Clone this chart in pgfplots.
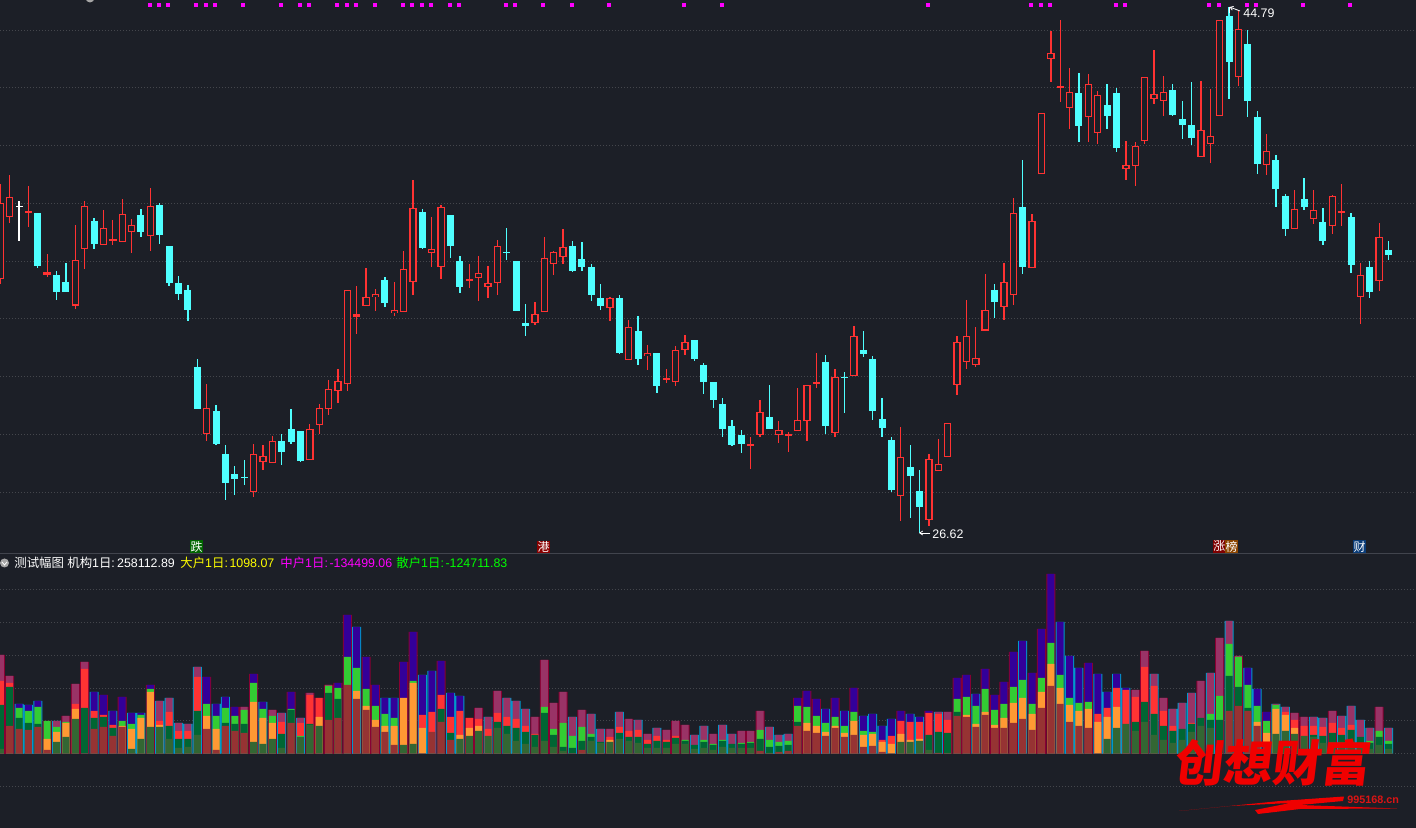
\documentclass[border=0pt]{standalone}
\usepackage{fontspec}
\usepackage{pgfplots}
\usepackage{pgfplotstable}
\usetikzlibrary{arrows.meta}
\pgfplotsset{compat=1.18}
\setmainfont{Liberation Sans}
\newfontfamily\cjk{Noto Sans CJK SC}

\definecolor{bg}{HTML}{1C1F27}
\definecolor{gridc}{HTML}{44464C}
\definecolor{sepc}{HTML}{41444D}
\definecolor{upc}{HTML}{FF3232}
\definecolor{downc}{HTML}{4FFFFF}
\definecolor{dojiw}{HTML}{FFFFFF}
\definecolor{edgeb}{HTML}{0099CC}
\definecolor{edgec}{HTML}{880033}
\definecolor{sA}{HTML}{963333}
\definecolor{sB}{HTML}{336633}
\definecolor{sC}{HTML}{FF9933}
\definecolor{sD}{HTML}{FF3333}
\definecolor{sE}{HTML}{33CC33}
\definecolor{sF}{HTML}{006633}
\definecolor{sG}{HTML}{330099}
\definecolor{sH}{HTML}{993366}
\definecolor{wm}{HTML}{F00000}
\definecolor{wmt}{HTML}{DC1414}
\definecolor{tagA}{HTML}{006600}
\definecolor{tagB}{HTML}{880000}
\definecolor{tagC}{HTML}{7F0000}
\definecolor{tagD}{HTML}{8B4500}
\definecolor{tagE}{HTML}{0A3C78}
\definecolor{sigc}{HTML}{FF00FF}
\definecolor{hdrY}{HTML}{FFFF00}
\definecolor{hdrG}{HTML}{00FF00}

% price panel, y = pixel row; t: 0 falling, 1 rising, 2 white doji
\pgfplotstableread{
i t hi top bot lo
0 1 184 203.3 279.3 284
1 1 175 197.3 217.3 222.7
2 2 201 206 207 240.7
3 1 186 211 213 226.7
4 0 213 213 265.7 267.7
5 1 254 272.3 274.7 276.7
6 0 271.3 275 291.7 299.7
7 0 263 282 291.7 291.7
8 1 225 260.3 305.7 308.7
9 1 201 206.3 249.3 268.7
10 0 218 221 243.7 249
11 1 210 228.3 245.3 245.3
12 1 220 239.3 241.3 244.7
13 1 199 214.3 242.3 242.3
14 1 219 225.3 232.3 252.7
15 0 209 215 232 237
16 1 188 206.3 236.3 250.7
17 0 203 205 234.7 244
18 0 246 246 282.7 285.7
19 0 276 283 293.7 299.7
20 0 285 290 309.7 320.7
21 0 359 367 408.7 408.7
22 1 384 408.3 434.3 440.7
23 0 405 411 443.7 444.7
24 0 445 454 482.7 499.7
25 0 466 474 478.7 494.7
26 0 460 477 478 484.7
27 1 444 454.3 492.3 496.7
28 1 445 456.3 462.3 469.7
29 1 436 441.3 463.3 463.3
30 0 434 441 451.7 464.7
31 0 409 429 441.7 443.7
32 0 431 431 460.7 461.7
33 1 424.3 429.3 460.3 460.3
34 1 404 408.3 425.3 433.7
35 1 380 389.3 409.3 414.7
36 1 369.3 381.3 391.3 402.7
37 1 290.3 290.3 384.3 390.7
38 1 286 314.3 316.7 333.7
39 1 268 297.3 306.3 306.3
40 1 289 294.3 297.3 310.7
41 0 277 280 302.7 306.7
42 1 282 310.3 313.3 315.7
43 1 251 269.3 312.3 312.3
44 1 180 208.3 282.3 294.7
45 0 209 212 247.7 248.7
46 1 217 249.3 253.3 266.7
47 1 205 207.3 267.3 278.7
48 0 215 215 245.7 257.7
49 0 256 261 286.7 292.7
50 1 264 279.3 281.3 287.7
51 1 256 273.3 278.3 300.7
52 1 266 283.3 287.3 297.7
53 1 240 246.3 283.3 294.7
54 0 228 252 253 259.7
55 0 261 261 310.7 310.7
56 0 304 323 325.7 335.7
57 1 302 314.3 323.3 324.7
58 1 237 258.3 312.3 312.3
59 1 251.3 252.3 264.3 274.7
60 1 229 247.3 257.3 263.7
61 0 241 246 270.7 271.7
62 0 242 259 266.7 270.7
63 0 264 267 294.7 300.7
64 0 284 298 305.7 309.7
65 1 297 298.3 308.3 320.7
66 0 295 298 352.7 353.7
67 1 320 327.3 360.3 360.3
68 0 316 331 358.7 364.7
69 1 345 353.3 356.3 369.7
70 0 353 353 385.7 392.7
71 1 369 378 380 382.7
72 1 346 350.3 382.3 385.7
73 1 335 342.3 350.3 355.5
74 0 340 340 358.7 360.7
75 0 363 365 381.7 393.7
76 0 382 382 399.7 407.7
77 0 398 404 428.7 436.7
78 0 420 426 444.7 445.7
79 0 430 435 443.7 452.7
80 1 437 444 446 468.7
81 1 400 412.3 435.3 436.7
82 0 385 417 428.7 428.7
83 1 421 430.3 435.3 443
84 1 432 434.3 435.7 451.7
85 1 388 420.3 431.3 431.3
86 1 385.3 385.3 421.3 441
87 1 353 382 383.5 387.7
88 0 355 362 425.7 433.7
89 1 369 377.3 433.3 436.7
90 0 372 377 378 412.7
91 1 326 336.3 376.3 376.3
92 0 331 350 353.7 356.7
93 0 356 359 410.7 419.7
94 0 398 419 427.7 436.7
95 0 437 440 489.7 491.7
96 1 427 457.3 496.3 520.7
97 0 445 467 475.7 517.7
98 0 470 491 506.7 532.7
99 1 454 459.3 520.3 525.7
100 1 439 464.3 471.3 471.3
101 1 423.3 423.3 457.3 457.3
102 1 336 342.3 385.3 394.7
103 1 300 336.3 362.3 369.3
104 1 327 358.3 365.3 367.3
105 1 274 310.3 330.7 330.7
106 0 284 290 301.7 317.7
107 1 263 282.3 307.3 319.7
108 1 198 213.3 295.3 304.7
109 0 160 207 266.7 273.7
110 1 214 221.3 268.3 268.3
111 1 113.3 113.3 174.3 174.3
112 1 31 53.3 59.3 81.7
113 1 20 86.3 88.3 101.7
114 1 68 92.3 108.3 128.7
115 0 73 93 125.7 141.7
116 1 74 84.3 117.3 141.7
117 1 91 95.3 133.3 143.7
118 0 84 105 115.7 128.7
119 0 88 93 147.7 151.7
120 1 141 165.3 169.3 179.7
121 1 142 146.3 166.3 185.7
122 1 77.3 77.3 141.3 144.3
123 1 50 94.3 99.3 103.7
124 1 76 92.3 101.3 115.7
125 0 84 90 114.7 115.7
126 0 101 119 124.7 138.7
127 0 82 125 137.7 144.7
128 1 81 130.3 157.3 157.3
129 1 89 136.3 144.3 162.7
130 1 20.3 20.3 116.3 116.3
131 0 7 16 61.7 98.7
132 1 11 29.3 77.3 86
133 0 30 44 100.7 116.7
134 0 111 117 163.7 173.7
135 1 134 151.3 165.3 174.7
136 0 155 160 188.7 206.7
137 0 194 196 228.7 235.7
138 1 190 209.3 229.3 229.3
139 0 178 199 206.7 209.7
140 1 190 210.3 219.3 223.7
141 0 208 222 240.7 244.7
142 1 195 196.3 226.3 233.7
143 1 184 211.3 213.3 225.7
144 0 213 217 264.7 272.7
145 1 263 275.3 297.3 323.7
146 0 261 267 291.7 297.7
147 1 223 237.3 281.3 290.7
148 0 241 250 254.7 259.7
}\candles

% signal dots along the top edge
\pgfplotstableread{
i y
16 5.3
17 5.3
18 5.3
21 5.3
22 5.3
23 5.3
26 5.3
30 5.3
32 5.3
33 5.3
36 5.3
37 5.3
38 5.3
40 5.3
43 5.3
44 5.3
45 5.3
46 5.3
48 5.3
49 5.3
54 5.3
55 5.3
58 5.3
61 5.3
65 5.3
73 5.3
77 5.3
99 5.3
110 5.3
111 5.3
112 5.3
119 5.3
120 5.3
129 5.3
130 5.3
133 5.3
134 5.3
139 5.3
144 5.3
}\signals

% lower panel: cumulative heights above the zero line, with colour code per segment
\pgfplotstableread{
i e h1 c1 h2 c2 h3 c3 h4 c4
0 1 5 2 49 6 73 4 99 8
1 1 28 1 67 6 71 4 78 8
2 0 25 1 36 6 46 5 50 7
3 0 24 1 31 6 43 5 49 7
4 0 27 1 30 6 47 5 53 7
5 1 0 0 4 1 15 3 33 5
6 0 12 2 22 3 27 5 33 8
7 1 17 2 31 3 32 5 38 8
8 1 35 2 45 3 50 4 70 8
9 1 0 0 46 6 85 4 92 8
10 0 25 1 36 6 43 4 62 7
11 1 27 1 37 6 39 4 59 7
12 0 18 1 26 6 29 4 43 7
13 1 27 1 28 3 33 5 57 7
14 0 5 2 25 3 30 5 41 7
15 0 15 2 36 3 39 5 41 7
16 1 27 2 62 3 65 5 69 7
17 0 27 2 29 3 33 4 53 8
18 0 15 2 28 6 42 4 56 8
19 0 6 2 15 6 23 4 31 8
20 0 7 2 15 6 23 4 30 8
21 0 19 2 43 6 77 4 87 8
22 1 25 1 38 3 50 5 77 7
23 0 4 1 25 3 38 5 50 7
24 0 28 1 31 6 46 5 57 7
25 1 23 1 30 6 38 5 47 7
26 1 21 1 30 6 44 5 47 8
27 1 12 2 52 3 71 5 80 7
28 0 10 2 36 3 45 5 52 7
29 1 15 2 31 3 38 5 44 8
30 0 6 2 20 6 32 4 41 8
31 1 31 1 44 6 45 5 62 7
32 0 17 2 18 5 31 4 36 8
33 1 29 2 30 6 59 4 61 8
34 1 0 0 28 2 37 3 56 4
35 1 34 1 61 6 68 5 69 8
36 1 36 1 55 6 66 5 71 7
37 1 0 0 69 1 97 5 139 7
38 0 55 1 63 3 86 5 127 7
39 1 44 1 48 3 65 5 97 7
40 1 27 1 34 3 48 5 69 7
41 0 22 1 28 3 40 5 56 7
42 0 9 1 28 3 36 5 56 7
43 1 0 0 9 2 56 3 92 7
44 1 10 2 71 3 73 5 122 7
45 0 0 0 26 3 39 4 79 7
46 0 0 0 22 1 42 4 83 7
47 1 32 1 45 6 59 4 93 7
48 0 14 1 21 6 37 4 61 7
49 0 15 2 19 3 43 4 58 7
50 1 0 0 18 2 26 3 36 4
51 1 23 2 28 3 35 4 46 8
52 0 0 0 18 2 25 4 37 8
53 1 26 2 32 6 41 4 63 8
54 0 20 2 28 6 37 4 56 8
55 0 13 2 26 6 35 4 53 8
56 0 10 2 22 6 28 4 45 8
57 1 7 2 19 6 20 4 37 8
58 1 13 2 41 6 47 5 94 8
59 1 7 2 19 6 25 5 51 8
60 1 3 2 7 6 31 5 62 8
61 0 0 0 6 6 18 5 37 8
62 1 4 1 13 6 27 5 44 8
63 0 13 2 17 6 20 5 40 8
64 0 0 0 11 2 12 6 25 8
65 1 12 2 14 3 17 4 25 8
66 0 15 2 21 6 27 4 42 8
67 1 13 2 17 6 23 4 35 8
68 0 11 2 17 6 24 4 34 8
69 1 6 2 10 6 14 4 20 8
70 0 6 2 13 6 18 4 26 8
71 1 6 2 12 6 14 4 24 8
72 1 10 2 16 6 18 4 33 8
73 1 10 2 13 6 14 5 29 8
74 0 0 0 5 2 9 6 19 8
75 0 6 2 12 6 14 5 28 8
76 1 4 2 9 6 10 5 20 8
77 0 7 2 13 6 14 5 29 8
78 0 0 0 6 2 10 6 20 8
79 1 6 2 10 6 11 5 23 8
80 1 6 2 11 6 12 5 23 8
81 1 3 1 15 6 24 5 43 8
82 0 1 2 7 6 14 5 27 8
83 0 2 1 8 6 12 5 19 8
84 0 3 1 9 6 13 5 20 8
85 1 28 1 32 6 48 5 56 7
86 1 23 1 31 3 47 5 63 7
87 1 21 1 28 3 38 5 55 7
88 0 18 1 22 3 31 5 45 7
89 1 26 1 28 3 37 5 56 7
90 0 17 1 21 3 28 5 43 7
91 1 19 1 33 3 42 5 66 7
92 0 7 1 19 3 23 5 38 7
93 0 8 1 20 3 22 5 40 7
94 0 2 1 12 3 14 4 28 7
95 0 0 0 10 3 18 4 35 7
96 1 12 2 20 3 33 4 43 7
97 0 12 2 14 3 32 4 40 7
98 0 13 2 15 3 32 4 37 7
99 1 4 2 19 6 41 4 43 7
100 0 1 1 22 6 40 4 42 8
101 1 1 2 21 6 34 4 42 8
102 1 38 1 42 6 55 5 76 7
103 1 37 1 39 3 57 5 79 7
104 0 27 1 30 3 48 5 60 7
105 1 39 1 42 3 65 5 85 7
106 1 26 1 29 3 44 5 59 7
107 1 26 1 36 3 50 5 72 7
108 1 31 1 51 3 67 5 102 7
109 0 35 1 56 3 74 5 113 7
110 1 24 1 40 3 50 5 81 7
111 1 46 1 62 3 76 5 125 7
112 1 68 1 90 3 111 5 180 7
113 0 50 1 66 3 79 5 132 7
114 0 32 1 49 3 56 5 98 7
115 0 28 1 43 3 51 5 86 7
116 1 26 1 45 3 52 5 91 7
117 0 0 0 32 3 40 4 80 7
118 0 15 2 37 3 46 4 62 7
119 0 26 2 47 3 66 4 80 7
120 0 0 0 30 2 64 4 66 7
121 1 23 2 32 6 57 4 64 8
122 1 32 2 52 6 87 4 103 8
123 0 19 2 40 6 68 4 80 8
124 1 14 2 28 6 43 4 56 8
125 0 11 2 23 6 28 4 45 8
126 0 0 0 14 2 25 6 51 8
127 0 22 2 30 6 31 4 61 8
128 1 0 0 28 2 36 6 73 8
129 0 26 2 34 6 40 5 81 8
130 1 0 0 34 6 58 5 116 8
131 0 43 1 78 6 110 5 133 8
132 1 48 1 67 6 97 5 98 8
133 0 43 1 46 6 69 5 86 7
134 0 28 1 32 3 48 5 65 7
135 1 8 1 21 3 33 5 42 7
136 0 20 2 45 3 49 5 50 8
137 0 23 2 39 3 42 4 47 8
138 1 20 2 26 3 34 4 41 8
139 1 0 0 18 2 28 4 37 8
140 0 17 2 19 6 28 4 37 8
141 0 11 2 18 6 27 4 36 8
142 1 12 2 21 6 31 4 43 8
143 0 12 2 19 6 26 4 38 8
144 0 12 2 24 6 29 4 48 8
145 0 0 0 8 2 17 6 34 8
146 0 5 2 11 6 13 5 26 8
147 1 9 2 17 6 23 5 47 8
148 0 5 2 10 6 13 5 26 8
}\bars

\pgfplotsset{stick/.style={draw=none, no marks, forget plot,
    error bars/.cd, y dir=both, y explicit, error mark=none,
    error bar style={solid, #1}}}
\newcommand{\wick}[2]{%
  \addplot[stick={line width=0.65pt, color=#2}]
    table[x=i, y expr={(\thisrow{hi}+\thisrow{lo})/2},
          y error expr={\thisrow{t}==#1 ? (\thisrow{lo}-\thisrow{hi})/2 : 0}] {\candles};
}
\newcommand{\body}[3]{%
  \addplot[stick={line width=#3, color=#2}]
    table[x=i, y expr={(\thisrow{top}+\thisrow{bot})/2},
          y error expr={\thisrow{t}==#1 ? (\thisrow{bot}-\thisrow{top})/2 : 0}] {\candles};
}
\newcommand{\hollow}[1]{%
  \addplot[stick={line width=2.4pt, color=#1}]
    table[x=i, y expr={(\thisrow{top}+\thisrow{bot})/2},
          y error expr={\thisrow{t}==1 ? max((\thisrow{bot}-\thisrow{top})/2-1.2,0) : 0}] {\candles};
}
\newcommand{\seg}[3]{%
  \addplot[ybar, bar shift=0pt, bar width=3.5pt, fill=#3, draw=none, forget plot]
    table[x=i, y expr={\thisrow{c#1}==#2 ? \thisrow{h#1} : 0}] {\bars};
}
\newcommand{\layer}[1]{%
  \seg{#1}{1}{sA}\seg{#1}{2}{sB}\seg{#1}{3}{sC}\seg{#1}{4}{sD}
  \seg{#1}{5}{sE}\seg{#1}{6}{sF}\seg{#1}{7}{sG}\seg{#1}{8}{sH}
}
\pgfplotsset{panel/.style={
  scale only axis, width=708pt, anchor=south west,
  xmin=-0.03, xmax=150.93,
  xtick=\empty, yticklabels={},
  ymajorgrids, major tick length=0pt,
  major grid style={color=gridc, line width=0.5pt, dash pattern=on 0.5pt off 1pt},
  axis line style={draw=none},
  axis background/.style={fill=bg},
}}

\begin{document}
\begin{tikzpicture}
\useasboundingbox (0,0) rectangle (708pt,414pt);

\begin{axis}[panel, at={(0pt,137pt)}, height=277pt, y dir=reverse, ymin=0, ymax=554,
  ytick={30.3,88,145.7,203.4,261.2,318.9,376.6,434.4,492.1}]
  \wick{0}{downc}
  \wick{1}{upc}
  \wick{2}{dojiw}
  \body{0}{downc}{3.5pt}
  \body{1}{upc}{3.7pt}
  \body{2}{dojiw}{3.5pt}
  \hollow{bg}
  \addplot[only marks, mark=square*, mark size=0.75pt, color=sigc, forget plot]
    table[x expr={\thisrow{i}-0.1}, y=y] {\signals};
\end{axis}

\begin{axis}[panel, at={(0pt,0pt)}, height=137pt, ymin=-74, ymax=200,
  ytick={-33,0,33,65,98,131,164}]
  \addplot[ybar, bar shift=0pt, bar width=4.5pt, fill=edgeb, draw=none, forget plot]
    table[x=i, y expr={\thisrow{e}==0 ? \thisrow{h4} : 0}] {\bars};
  \addplot[ybar, bar shift=0pt, bar width=4.5pt, fill=edgec, draw=none, forget plot]
    table[x=i, y expr={\thisrow{e}==1 ? \thisrow{h4} : 0}] {\bars};
  \layer{4}
  \layer{3}
  \layer{2}
  \layer{1}
  \addplot[color=sepc, line width=0.5pt, forget plot] coordinates {(-0.03,200) (150.93,200)};
\end{axis}

% annotations, in pixel coordinates of the picture
\begin{scope}[x=0.5pt, y=-0.5pt, yshift=414pt]
  \tikzset{lab/.style={anchor=west, inner sep=0pt, font=\fontsize{6.2pt}{7pt}\selectfont}}
  \fill[gray!70] (90,-2) circle (4.5);
  \fill[gray!70] (4.5,563) circle (4.5);
  \draw[white, line width=0.4pt] (2,562) -- (4.5,565) -- (7,562);
  \node[lab, text=white] at (14,563) {\cjk 测试幅图};
  \node[lab, text=white] at (67,563) {{\cjk 机构}1{\cjk 日}:\hspace{1.1pt}258112.89};
  \node[lab, text=hdrY] at (180,563) {{\cjk 大户}1{\cjk 日}:\hspace{0.8pt}1098.07};
  \node[lab, text=sigc] at (280,563) {{\cjk 中户}1{\cjk 日}:\hspace{0.8pt}-134499.06};
  \node[lab, text=hdrG] at (396,563) {{\cjk 散户}1{\cjk 日}:\hspace{0.8pt}-124711.83};

  \tikzset{tag/.style={inner sep=0pt, minimum width=6.3pt, minimum height=6.4pt, text=white,
    font=\fontsize{6pt}{6pt}\selectfont\cjk}}
  \node[tag, fill=tagA] at (196.7,546.5) {跌};
  \node[tag, fill=tagB] at (543.7,547) {港};
  \node[tag, fill=tagC] at (1219.4,546.5) {涨};
  \node[tag, fill=tagD] at (1231.7,546.5) {榜};
  \node[tag, fill=tagE] at (1359.6,546.5) {财};

  \draw[white, line width=0.4pt] (1229,7) -- (1229,13);
  \draw[white, line width=0.4pt, -{Straight Barb[length=1.5pt,width=2pt]}] (1240,11) -- (1229.5,7);
  \node[lab, text=white] at (1243,13) {44.79};
  \draw[white, line width=0.4pt, -{Straight Barb[length=1.5pt,width=2pt]}] (930,533) -- (919,533);
  \node[lab, text=white] at (932,534) {26.62};

  \node[anchor=west, inner sep=0pt, text=wm, xslant=0.12,
    font=\fontsize{24.5pt}{25pt}\selectfont\cjk\bfseries] at (1175,763) {创想财富};
  \fill[wm] (1179,811) -- (1280,801) -- (1344,796.5) -- (1343,801) -- (1300,805) -- (1397,808.5)
    -- (1300,809) -- (1258,814) -- (1255,810) -- (1290,803) -- (1230,806) -- cycle;
  \node[anchor=west, inner sep=0pt, text=wmt,
    font=\fontsize{5.4pt}{6pt}\selectfont\bfseries] at (1347,800) {995168.cn};
\end{scope}
\end{tikzpicture}
\end{document}
